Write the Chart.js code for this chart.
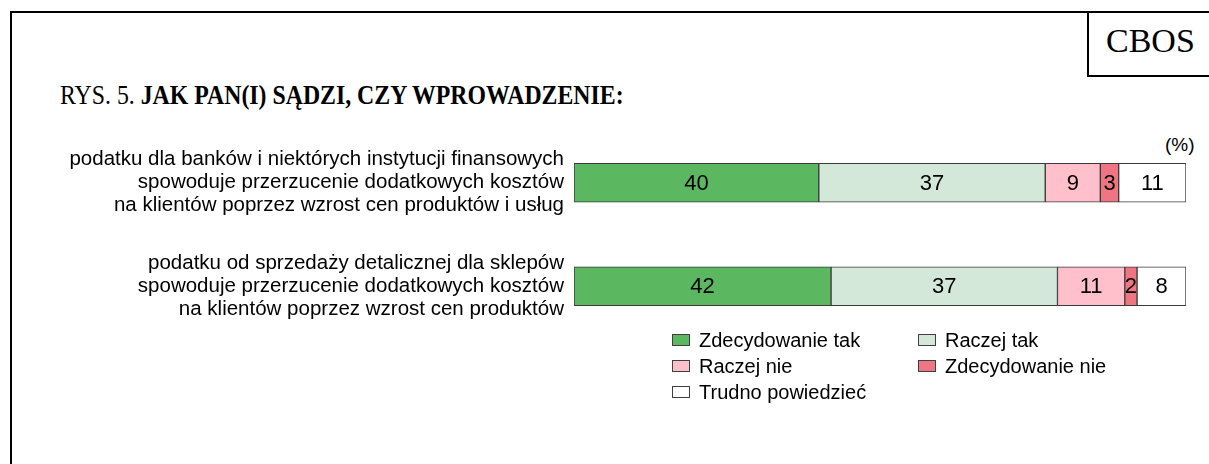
<!DOCTYPE html>
<html><head><meta charset="utf-8">
<script src="https://cdn.jsdelivr.net/npm/chart.js@4.4.1/dist/chart.umd.min.js"></script>
<style>
html,body{margin:0;padding:0;background:#fff;}
#wrap{position:relative;width:1209px;height:464px;overflow:hidden;}
#frame{position:absolute;left:10px;top:11px;width:1220px;height:470px;border-left:2px solid #000;border-top:2px solid #000;}
#cbos{position:absolute;left:1087px;top:11px;width:140px;height:64px;border-left:2px solid #000;border-bottom:2px solid #000;}
#cbos span{position:absolute;left:17px;top:13px;font-family:"Liberation Serif",serif;font-size:34px;line-height:34px;white-space:nowrap;}
#title{position:absolute;left:60px;top:80px;font-family:"Liberation Serif",serif;font-size:28px;line-height:30px;white-space:nowrap;transform:scaleX(0.85);transform-origin:left top;}
#pct{position:absolute;left:1165px;top:134px;font-family:"Liberation Sans",Arial,sans-serif;font-size:19px;}
canvas{position:absolute;left:0;top:0;}
</style></head>
<body><div id="wrap">
<div id="frame"></div>
<div id="cbos"><span>CBOS</span></div>
<div id="title">RYS. 5. <b>JAK PAN(I) SĄDZI, CZY WPROWADZENIE:</b></div>
<div id="pct">(%)</div>
<canvas id="c" width="1209" height="464"></canvas>
</div>
<script>
const categories = [
  ["podatku dla banków i niektórych instytucji finansowych","spowoduje przerzucenie dodatkowych kosztów","na klientów poprzez wzrost cen produktów i usług"],
  ["podatku od sprzedaży detalicznej dla sklepów","spowoduje przerzucenie dodatkowych kosztów","na klientów poprzez wzrost cen produktów"]
];
const seriesNames = ["Zdecydowanie tak","Raczej tak","Raczej nie","Zdecydowanie nie","Trudno powiedzieć"];
const zdecydowanieTak = [40, 42];
const raczejTak = [37, 37];
const raczejNie = [9, 11];
const zdecydowanieNie = [3, 2];
const trudnoPowiedziec = [11, 8];
const colors = ["#5cb860","#d3e8d8","#ffc0cb","#f07582","#ffffff"];

const seriesValues = [zdecydowanieTak, raczejTak, raczejNie, zdecydowanieNie, trudnoPowiedziec];
const FONT = '"Liberation Sans", Arial, sans-serif';

const valueLabels = {
  id:'valueLabels',
  afterDatasetsDraw(chart){
    const ctx = chart.ctx;
    ctx.save();
    ctx.font = '22px ' + FONT;
    ctx.fillStyle = '#000';
    ctx.textAlign = 'center';
    ctx.textBaseline = 'middle';
    chart.data.datasets.forEach((ds, i) => {
      chart.getDatasetMeta(i).data.forEach((bar, j) => {
        const x = (bar.x + bar.base) / 2;
        ctx.fillText(String(ds.data[j]), x, bar.y + 1);
      });
    });
    ctx.restore();
  }
};

const canvasLegend = {
  id:'canvasLegend',
  afterDraw(chart){
    const ctx = chart.ctx;
    const cols = [672, 918];
    const rows = [340, 366, 392];
    ctx.save();
    ctx.font = '20px ' + FONT;
    ctx.textBaseline = 'middle';
    ctx.textAlign = 'left';
    chart.data.datasets.forEach((ds, i) => {
      const x = cols[i % 2], y = rows[Math.floor(i / 2)];
      ctx.fillStyle = ds.backgroundColor;
      ctx.fillRect(x, y - 6, 18, 12);
      ctx.strokeStyle = '#404040';
      ctx.lineWidth = 1;
      ctx.strokeRect(x + 0.5, y - 5.5, 17, 11);
      ctx.fillStyle = '#000';
      ctx.fillText(ds.label, x + 27, y + 1);
    });
    ctx.restore();
  }
};

new Chart(document.getElementById('c'), {
  type: 'bar',
  data: {
    labels: categories,
    datasets: seriesNames.map((n, i) => ({
      label: n,
      data: seriesValues[i],
      backgroundColor: colors[i],
      borderColor: '#3a3a3a',
      borderWidth: 1,
      borderSkipped: false,
      barThickness: 39
    }))
  },
  options: {
    indexAxis: 'y',
    responsive: false,
    animation: false,
    events: [],
    layout: { padding: { top: 131, bottom: 126, left: 0, right: 23 } },
    plugins: { legend: { display: false }, tooltip: { enabled: false } },
    scales: {
      x: { stacked: true, min: 0, max: 100, display: false },
      y: {
        stacked: true,
        grid: { display: false, drawTicks: false },
        border: { display: false },
        ticks: { color: '#000', padding: 10, font: { family: FONT, size: 20.5, lineHeight: 1.12 } },
        afterFit(scale){ scale.width = 574; }
      }
    }
  },
  plugins: [valueLabels, canvasLegend]
});
</script>
</body></html>
